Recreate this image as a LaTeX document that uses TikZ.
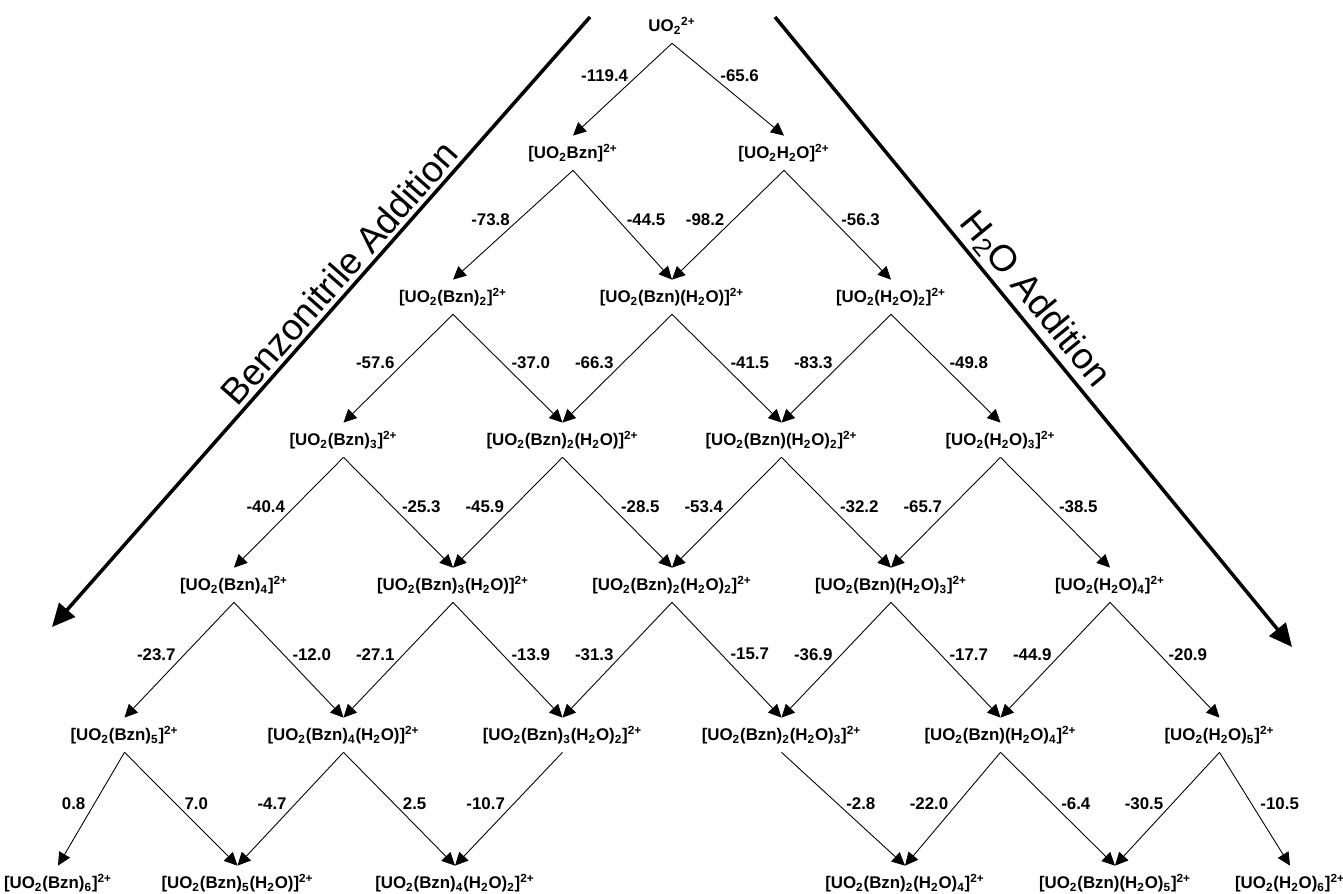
\documentclass[tikz,border=0pt]{standalone}
\usepackage{fontspec}
\setmainfont{Liberation Sans}
\usepackage{tikz}
\usetikzlibrary{arrows.meta}
\newcommand{\sbs}[1]{\textsubscript{#1}}
\newcommand{\chg}{\textsuperscript{2+}}

\begin{document}
\begin{tikzpicture}[
    species/.style={font=\fontsize{9.6}{11}\selectfont\bfseries, minimum height=6.8mm, inner xsep=1pt},
    link/.style={-{Triangle[length=2.6mm,width=2.5mm]}, line width=0.5pt},
    lbl/.style={font=\fontsize{9.6}{11}\selectfont\bfseries, inner xsep=5pt, pos=0.45},
    axis/.style={line width=2pt},
    axislabel/.style={font=\fontsize{21}{25}\selectfont, sloped, above, inner sep=2pt}
]
    \useasboundingbox (0,0) rectangle (26.86,17.88);

    % addition directions
    \coordinate (bztop) at (11.8,17.54);
    \coordinate (bzend) at (1.04,5.34);
    \coordinate (wtop) at (15.5,17.54);
    \coordinate (wend) at (25.84,4.94);
    \draw[axis, {Triangle[length=4.6mm,width=4.2mm]}-] (bzend) -- node[axislabel, pos=0.56] {Benzonitrile Addition} (bztop);
    \draw[axis, -{Triangle[length=4.6mm,width=4.2mm]}] (wtop) -- node[axislabel, pos=0.47] {H\sbs{2}O Addition} (wend);

    % species
    \node[species] (uo2) at (13.44,17.36) {UO\sbs{2}\chg};

    \node[species] (b1w0) at (11.46,14.82) {[UO\sbs{2}Bzn]\chg};
    \node[species] (b0w1) at (15.68,14.82) {[UO\sbs{2}H\sbs{2}O]\chg};

    \node[species] (b2w0) at (9.06,11.94) {[UO\sbs{2}(Bzn)\sbs{2}]\chg};
    \node[species] (b1w1) at (13.44,11.94) {[UO\sbs{2}(Bzn)(H\sbs{2}O)]\chg};
    \node[species] (b0w2) at (17.82,11.94) {[UO\sbs{2}(H\sbs{2}O)\sbs{2}]\chg};

    \node[species] (b3w0) at (6.87,9.08) {[UO\sbs{2}(Bzn)\sbs{3}]\chg};
    \node[species] (b2w1) at (11.25,9.08) {[UO\sbs{2}(Bzn)\sbs{2}(H\sbs{2}O)]\chg};
    \node[species] (b1w2) at (15.63,9.08) {[UO\sbs{2}(Bzn)(H\sbs{2}O)\sbs{2}]\chg};
    \node[species] (b0w3) at (20.01,9.08) {[UO\sbs{2}(H\sbs{2}O)\sbs{3}]\chg};

    \node[species] (b4w0) at (4.68,6.18) {[UO\sbs{2}(Bzn)\sbs{4}]\chg};
    \node[species] (b3w1) at (9.06,6.18) {[UO\sbs{2}(Bzn)\sbs{3}(H\sbs{2}O)]\chg};
    \node[species] (b2w2) at (13.44,6.18) {[UO\sbs{2}(Bzn)\sbs{2}(H\sbs{2}O)\sbs{2}]\chg};
    \node[species] (b1w3) at (17.82,6.18) {[UO\sbs{2}(Bzn)(H\sbs{2}O)\sbs{3}]\chg};
    \node[species] (b0w4) at (22.2,6.18) {[UO\sbs{2}(H\sbs{2}O)\sbs{4}]\chg};

    \node[species] (b5w0) at (2.49,3.18) {[UO\sbs{2}(Bzn)\sbs{5}]\chg};
    \node[species] (b4w1) at (6.87,3.18) {[UO\sbs{2}(Bzn)\sbs{4}(H\sbs{2}O)]\chg};
    \node[species] (b3w2) at (11.25,3.18) {[UO\sbs{2}(Bzn)\sbs{3}(H\sbs{2}O)\sbs{2}]\chg};
    \node[species] (b2w3) at (15.63,3.18) {[UO\sbs{2}(Bzn)\sbs{2}(H\sbs{2}O)\sbs{3}]\chg};
    \node[species] (b1w4) at (20.01,3.18) {[UO\sbs{2}(Bzn)(H\sbs{2}O)\sbs{4}]\chg};
    \node[species] (b0w5) at (24.39,3.18) {[UO\sbs{2}(H\sbs{2}O)\sbs{5}]\chg};

    \node[species] (b6w0) at (1.16,0.22) {[UO\sbs{2}(Bzn)\sbs{6}]\chg};
    \node[species] (b5w1) at (4.75,0.22) {[UO\sbs{2}(Bzn)\sbs{5}(H\sbs{2}O)]\chg};
    \node[species] (b4w2) at (9.1,0.22) {[UO\sbs{2}(Bzn)\sbs{4}(H\sbs{2}O)\sbs{2}]\chg};
    \node[species] (b2w4) at (18.1,0.22) {[UO\sbs{2}(Bzn)\sbs{2}(H\sbs{2}O)\sbs{4}]\chg};
    \node[species] (b1w5) at (22.3,0.22) {[UO\sbs{2}(Bzn)(H\sbs{2}O)\sbs{5}]\chg};
    \node[species] (b0w6) at (25.8,0.22) {[UO\sbs{2}(H\sbs{2}O)\sbs{6}]\chg};

    % binding energies
    \draw[link] (uo2.south) -- node[lbl, left, pos=0.35] {-119.4} (b1w0.north);
    \draw[link] (uo2.south) -- node[lbl, right, pos=0.35] {-65.6} (b0w1.north);

    \draw[link] (b1w0.south) -- node[lbl, left] {-73.8} (b2w0.north);
    \draw[link] (b1w0.south) -- node[lbl, right] {-44.5} (b1w1.north);
    \draw[link] (b0w1.south) -- node[lbl, left] {-98.2} (b1w1.north);
    \draw[link] (b0w1.south) -- node[lbl, right] {-56.3} (b0w2.north);

    \draw[link] (b2w0.south) -- node[lbl, left] {-57.6} (b3w0.north);
    \draw[link] (b2w0.south) -- node[lbl, right] {-37.0} (b2w1.north);
    \draw[link] (b1w1.south) -- node[lbl, left] {-66.3} (b2w1.north);
    \draw[link] (b1w1.south) -- node[lbl, right] {-41.5} (b1w2.north);
    \draw[link] (b0w2.south) -- node[lbl, left] {-83.3} (b1w2.north);
    \draw[link] (b0w2.south) -- node[lbl, right] {-49.8} (b0w3.north);

    \draw[link] (b3w0.south) -- node[lbl, left] {-40.4} (b4w0.north);
    \draw[link] (b3w0.south) -- node[lbl, right] {-25.3} (b3w1.north);
    \draw[link] (b2w1.south) -- node[lbl, left] {-45.9} (b3w1.north);
    \draw[link] (b2w1.south) -- node[lbl, right] {-28.5} (b2w2.north);
    \draw[link] (b1w2.south) -- node[lbl, left] {-53.4} (b2w2.north);
    \draw[link] (b1w2.south) -- node[lbl, right] {-32.2} (b1w3.north);
    \draw[link] (b0w3.south) -- node[lbl, left] {-65.7} (b1w3.north);
    \draw[link] (b0w3.south) -- node[lbl, right] {-38.5} (b0w4.north);

    \draw[link] (b4w0.south) -- node[lbl, left] {-23.7} (b5w0.north);
    \draw[link] (b4w0.south) -- node[lbl, right] {-12.0} (b4w1.north);
    \draw[link] (b3w1.south) -- node[lbl, left] {-27.1} (b4w1.north);
    \draw[link] (b3w1.south) -- node[lbl, right] {-13.9} (b3w2.north);
    \draw[link] (b2w2.south) -- node[lbl, left] {-31.3} (b3w2.north);
    \draw[link] (b2w2.south) -- node[lbl, right] {-15.7} (b2w3.north);
    \draw[link] (b1w3.south) -- node[lbl, left] {-36.9} (b2w3.north);
    \draw[link] (b1w3.south) -- node[lbl, right] {-17.7} (b1w4.north);
    \draw[link] (b0w4.south) -- node[lbl, left] {-44.9} (b1w4.north);
    \draw[link] (b0w4.south) -- node[lbl, right] {-20.9} (b0w5.north);

    \draw[link] (b5w0.south) -- node[lbl, left] {0.8} (b6w0.north);
    \draw[link] (b5w0.south) -- node[lbl, right] {7.0} (b5w1.north);
    \draw[link] (b4w1.south) -- node[lbl, left] {-4.7} (b5w1.north);
    \draw[link] (b4w1.south) -- node[lbl, right] {2.5} (b4w2.north);
    \draw[link] (b3w2.south) -- node[lbl, left] {-10.7} (b4w2.north);
    \draw[link] (b2w3.south) -- node[lbl, right] {-2.8} (b2w4.north);
    \draw[link] (b1w4.south) -- node[lbl, left] {-22.0} (b2w4.north);
    \draw[link] (b1w4.south) -- node[lbl, right] {-6.4} (b1w5.north);
    \draw[link] (b0w5.south) -- node[lbl, left] {-30.5} (b1w5.north);
    \draw[link] (b0w5.south) -- node[lbl, right] {-10.5} (b0w6.north);
\end{tikzpicture}
\end{document}
